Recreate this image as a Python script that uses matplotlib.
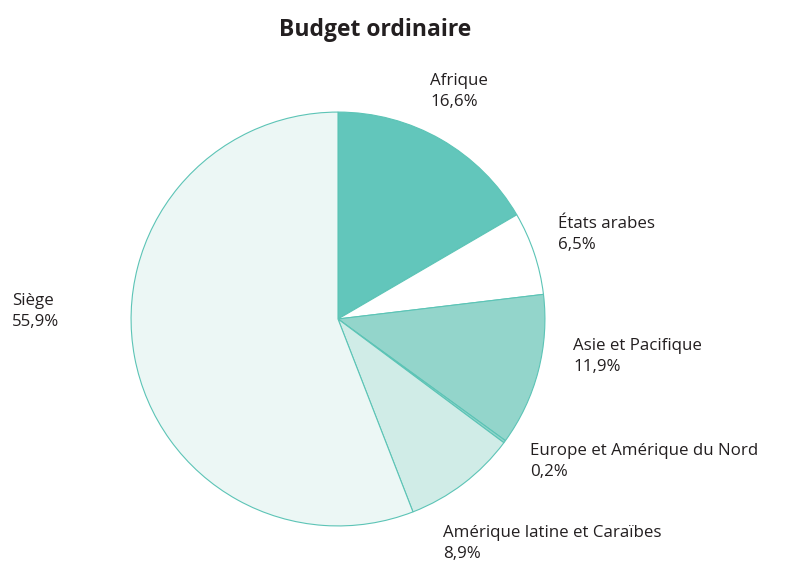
import matplotlib.pyplot as plt

regions = ["Afrique", "États arabes", "Asie et Pacifique",
           "Europe et Amérique du Nord", "Amérique latine et Caraïbes", "Siège"]
shares = [16.6, 6.5, 11.9, 0.2, 8.9, 55.9]
labels = ["16,6%", "6,5%", "11,9%", "0,2%", "8,9%", "55,9%"]
colors = ["#62c6bb", "#ffffff", "#93d5cb", "#93d5cb", "#d0ece7", "#ecf7f5"]

# label anchor positions in pixels (left, top)
label_pos = [(430, 73), (558, 216), (573, 338), (530, 443), (443, 525), (12, 293)]

W, H = 789, 569
fig = plt.figure(figsize=(W / 100, H / 100), dpi=100)
plt.rcParams['font.family'] = ['Open Sans', 'DejaVu Sans']

cx, cy, r = 338, 319, 209
ax = fig.add_axes([(cx - r) / W, (H - cy - r) / H, 2 * r / W, 2 * r / H])
ax.pie(shares, colors=colors, startangle=90, counterclock=False, radius=1,
       wedgeprops=dict(edgecolor="#5cc4b6", linewidth=0.8))
ax.set_xlim(-1.01, 1.01)
ax.set_ylim(-1.01, 1.01)
ax.set_aspect("equal")
ax.axis("off")

for name, lab, (px, py) in zip(regions, labels, label_pos):
    fig.text(px / W, 1 - py / H, name + "\n" + lab, ha="left", va="top",
             fontsize=12.2, color="#231f20", linespacing=1.45)

fig.text(375 / W, 1 - 30 / H, "Budget ordinaire", ha="center", va="center",
         fontsize=16.5, fontweight="bold", color="#231f20")

fig.savefig("out.png", dpi=100)
